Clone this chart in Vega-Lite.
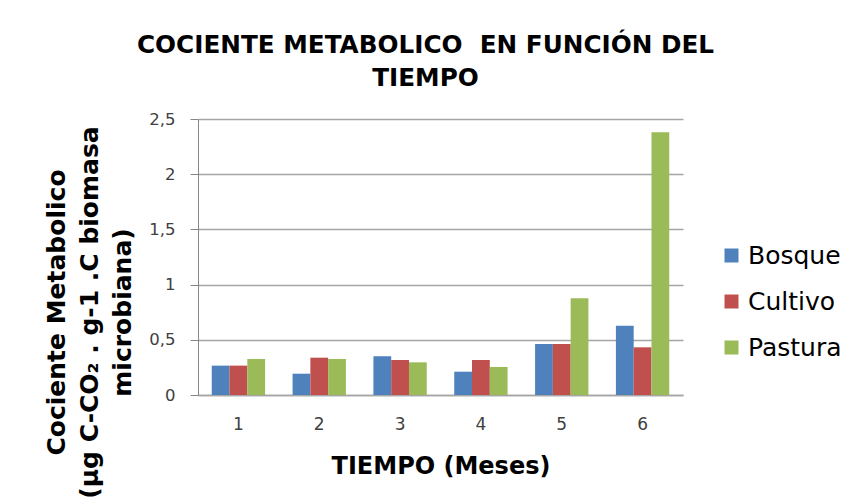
{
  "$schema": "https://vega.github.io/schema/vega-lite/v6.json",
  "width": 485,
  "height": 276,
  "autosize": {"type": "none"},
  "padding": {"left": 198, "top": 119, "right": 171, "bottom": 109},
  "background": "white",
  "title": {
    "text": ["COCIENTE METABOLICO\u00a0 EN FUNCIÓN DEL", "TIEMPO"],
    "font": "DejaVu Sans",
    "fontSize": 24.7,
    "fontWeight": "bold",
    "color": "black",
    "anchor": "middle",
    "frame": "group",
    "dx": -15,
    "lineHeight": 33,
    "offset": 20
  },
  "data": {
    "values": [
      {"mes": "1", "uso": "Bosque", "valor": 0.266},
      {"mes": "1", "uso": "Cultivo", "valor": 0.266},
      {"mes": "1", "uso": "Pastura", "valor": 0.326},
      {"mes": "2", "uso": "Bosque", "valor": 0.193},
      {"mes": "2", "uso": "Cultivo", "valor": 0.338},
      {"mes": "2", "uso": "Pastura", "valor": 0.326},
      {"mes": "3", "uso": "Bosque", "valor": 0.35},
      {"mes": "3", "uso": "Cultivo", "valor": 0.317},
      {"mes": "3", "uso": "Pastura", "valor": 0.296},
      {"mes": "4", "uso": "Bosque", "valor": 0.211},
      {"mes": "4", "uso": "Cultivo", "valor": 0.317},
      {"mes": "4", "uso": "Pastura", "valor": 0.254},
      {"mes": "5", "uso": "Bosque", "valor": 0.462},
      {"mes": "5", "uso": "Cultivo", "valor": 0.462},
      {"mes": "5", "uso": "Pastura", "valor": 0.876},
      {"mes": "6", "uso": "Bosque", "valor": 0.628},
      {"mes": "6", "uso": "Cultivo", "valor": 0.432},
      {"mes": "6", "uso": "Pastura", "valor": 2.379}
    ]
  },
  "mark": {"type": "bar"},
  "encoding": {
    "x": {
      "field": "mes",
      "type": "ordinal",
      "scale": {"paddingInner": 0.34, "paddingOuter": 0.17},
      "axis": {
        "title": "TIEMPO (Meses)",
        "titleFont": "DejaVu Sans",
        "titleFontSize": 24,
        "titleFontWeight": "bold",
        "titleColor": "black",
        "titleY": 78,
        "titleBaseline": "alphabetic",
        "labelAngle": 0,
        "labelFont": "DejaVu Sans",
        "labelFontSize": 17,
        "labelColor": "#404040",
        "labelPadding": 21,
        "ticks": false,
        "tickSize": 0,
        "domainColor": "#a5a5a5",
        "domainWidth": 1.5,
        "grid": false
      }
    },
    "xOffset": {"field": "uso", "type": "nominal", "sort": ["Bosque", "Cultivo", "Pastura"]},
    "y": {
      "field": "valor",
      "type": "quantitative",
      "scale": {"domain": [0, 2.5], "nice": false},
      "axis": {
        "values": [0, 0.5, 1, 1.5, 2, 2.5],
        "format": "~g",
        "labelExpr": "replace(datum.label, '.', ',')",
        "title": ["Cociente Metabolico", "(µg C-CO₂ . g-1 .C biomasa", "microbiana)"],
        "titleFont": "DejaVu Sans",
        "titleFontSize": 25,
        "titleFontWeight": "bold",
        "titleColor": "black",
        "titleAngle": 270,
        "titleAlign": "center",
        "titleBaseline": "alphabetic",
        "titleLineHeight": 33,
        "titleX": -134,
        "titleY": 193,
        "labelFont": "DejaVu Sans",
        "labelFontSize": 16.5,
        "labelColor": "#404040",
        "labelPadding": 15,
        "tickSize": 8,
        "tickColor": "#868686",
        "domainColor": "#868686",
        "gridColor": "#a5a5a5",
        "gridWidth": 1.3
      }
    },
    "color": {
      "field": "uso",
      "type": "nominal",
      "scale": {"domain": ["Bosque", "Cultivo", "Pastura"], "range": ["#4F81BD", "#C0504D", "#9BBB59"]},
      "legend": {
        "orient": "none",
        "legendX": 521,
        "legendY": 124,
        "title": null,
        "labelFont": "DejaVu Sans",
        "labelFontSize": 25,
        "labelColor": "black",
        "symbolType": "square",
        "symbolSize": 196,
        "symbolStrokeWidth": 0,
        "symbolOpacity": 1,
        "rowPadding": 20,
        "labelOffset": 4
      }
    }
  },
  "config": {"view": {"stroke": null}}
}
